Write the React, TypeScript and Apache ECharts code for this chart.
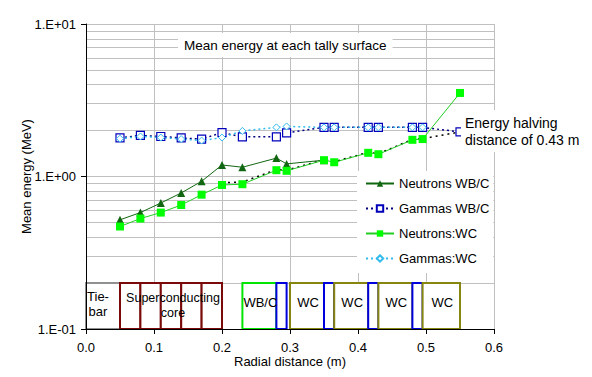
import React, { useEffect, useRef } from "react";
import * as echarts from "echarts";

const FONT = '"Liberation Sans", Arial, sans-serif';

// ---- data ----
const neutronsWBCx = [0.05, 0.08, 0.11, 0.14, 0.17, 0.2, 0.23, 0.28, 0.295, 0.35];
const neutronsWBC = [0.52, 0.58, 0.67, 0.78, 0.93, 1.19, 1.15, 1.32, 1.21, 1.28];

const gammasWBCx = [0.05, 0.08, 0.11, 0.14, 0.17, 0.2, 0.23, 0.28, 0.295, 0.35, 0.365, 0.415, 0.43, 0.48, 0.495, 0.55];
const gammasWBC = [1.79, 1.86, 1.83, 1.79, 1.76, 1.94, 1.82, 1.82, 1.93, 2.1, 2.1, 2.1, 2.1, 2.1, 2.1, 1.96];

const neutronsWCx = [0.05, 0.08, 0.11, 0.14, 0.17, 0.2, 0.23, 0.28, 0.295, 0.35, 0.365, 0.415, 0.43, 0.48, 0.495, 0.55];
const neutronsWC = [0.47, 0.53, 0.58, 0.65, 0.76, 0.88, 0.89, 1.1, 1.09, 1.28, 1.24, 1.43, 1.4, 1.74, 1.76, 3.53];

const gammasWCx = [0.05, 0.08, 0.11, 0.14, 0.17, 0.2, 0.23, 0.28, 0.295, 0.35, 0.365, 0.415, 0.43, 0.48, 0.495];
const gammasWC = [1.77, 1.83, 1.8, 1.76, 1.72, 1.8, 1.99, 2.1, 2.13, 2.1, 2.1, 2.1, 2.1, 2.1, 2.1];

const halvingX = [0.2, 0.23, 0.28, 0.295, 0.35, 0.365, 0.415, 0.43, 0.48, 0.495, 0.55];
const halvingY = [0.91, 0.92, 1.11, 1.1, 1.29, 1.25, 1.44, 1.41, 1.75, 1.77, 1.96];

const seriesNames = ["Neutrons WB/C", "Gammas WB/C", "Neutrons:WC", "Gammas:WC"];

// layer boxes (radial extent) drawn between two energy values
const boxStart = [0, 0.05, 0.08, 0.11, 0.14, 0.17, 0.23, 0.28, 0.3, 0.35, 0.365, 0.415, 0.43, 0.48, 0.495];
const boxEnd = [0.05, 0.08, 0.11, 0.14, 0.17, 0.2, 0.28, 0.295, 0.35, 0.365, 0.415, 0.43, 0.48, 0.495, 0.55];
const boxKind = ["tie", "core", "core", "core", "core", "core", "wbc", "gap", "wc", "gap", "wc", "gap", "wc", "gap", "wc"];
const boxLabel = ["Tie-\nbar", "", "", "", "", "", "WB/C", "", "WC", "", "WC", "", "WC", "", "WC"];
const boxLow = 0.1;
const boxHigh = 0.2;
const coreLabel = "Superconducting\ncore";
const coreStart = 0.05;
const coreEnd = 0.2;

const xGrid = [0.1, 0.2, 0.3, 0.4, 0.5, 0.6];
const yGrid = [0.2, 0.3, 0.4, 0.5, 0.6, 0.7, 0.8, 0.9, 1, 2, 3, 4, 5, 6, 7, 8, 9, 10];

const kindColor: Record<string, string> = {
  tie: "#909090",
  core: "#7a0a0a",
  wbc: "#00e600",
  gap: "#0000dd",
  wc: "#858510",
};

const pairs = (xs: number[], ys: number[]) => xs.map((x, i) => [x, ys[i]]);

const fmtY = (v: number) => {
  const e = Math.round(Math.log10(v));
  return "1.E" + (e < 0 ? "-" : "+") + String(Math.abs(e)).padStart(2, "0");
};

export default function App() {
  const ref = useRef<HTMLDivElement>(null);
  useEffect(() => {
    if (!ref.current) return;
    const chart = echarts.init(ref.current, undefined, { renderer: "svg" });

    const gridLines = {
      silent: true,
      z: 0,
      symbol: ["none", "none"],
      label: { show: false },
      emphasis: { disabled: true },
      lineStyle: { color: "#c0c0c0", width: 1, type: "solid" },
      data: [...xGrid.map((v) => ({ xAxis: v })), ...yGrid.map((v) => ({ yAxis: v }))],
    };

    const boxes = boxStart.map((s, i) => [
      {
        xAxis: s,
        yAxis: boxLow,
        itemStyle: { color: "#ffffff", borderColor: kindColor[boxKind[i]], borderWidth: 2 },
        label: {
          show: !!boxLabel[i],
          formatter: boxLabel[i],
          position: "inside",
          offset: boxKind[i] === "tie" ? [-5, -2] : [1, -4],
          color: "#000",
          fontSize: 13,
          lineHeight: 15,
          fontFamily: FONT,
        },
      },
      { xAxis: boxEnd[i], yAxis: boxHigh },
    ]);
    boxes.push([
      {
        xAxis: coreStart,
        yAxis: boxLow,
        itemStyle: { color: "rgba(0,0,0,0)", borderColor: "rgba(0,0,0,0)", borderWidth: 0 },
        label: {
          show: true,
          formatter: coreLabel,
          position: "inside",
          offset: [2, -1],
          color: "#000",
          fontSize: 12.5,
          lineHeight: 15,
          fontFamily: FONT,
        },
      } as any,
      { xAxis: coreEnd, yAxis: boxHigh },
    ]);

    chart.setOption({
      animation: false,
      textStyle: { fontFamily: FONT },
      grid: { left: 86, right: 98, top: 24, bottom: 48 },
      xAxis: {
        type: "value",
        min: 0,
        max: 0.6,
        interval: 0.1,
        z: 5,
        name: "Radial distance (m)",
        nameLocation: "middle",
        nameGap: 26,
        nameMoveOverlap: false,
        nameTextStyle: { fontSize: 13, color: "#000", fontFamily: FONT },
        axisLine: { onZero: false, lineStyle: { color: "#000", width: 1 } },
        axisTick: { show: true, length: 5, lineStyle: { color: "#000" } },
        axisLabel: { fontSize: 13, color: "#000", margin: 12, formatter: (v: number) => v.toFixed(1) },
        splitLine: { show: false },
      },
      yAxis: {
        type: "log",
        logBase: 10,
        min: 0.1,
        max: 10,
        z: 5,
        name: "Mean energy (MeV)",
        nameLocation: "middle",
        nameRotate: 90,
        nameGap: 53,
        nameMoveOverlap: false,
        nameTextStyle: { fontSize: 13, color: "#000", fontFamily: FONT },
        axisLine: { show: true, onZero: false, lineStyle: { color: "#000", width: 1 } },
        axisTick: { show: true, length: 5, lineStyle: { color: "#000" } },
        axisLabel: { fontSize: 13, color: "#000", margin: 10, formatter: fmtY },
        splitLine: { show: false },
      },
      legend: {
        data: seriesNames,
        orient: "vertical",
        left: 357,
        top: 171,
        itemWidth: 28,
        itemHeight: 8,
        itemGap: 12,
        padding: [6, 4, 8, 8],
        backgroundColor: "#ffffff",
        textStyle: { fontSize: 13, color: "#000", fontFamily: FONT },
        z: 10,
      },
      graphic: [
        {
          type: "text",
          left: 178,
          top: 33,
          z: 20,
          style: {
            text: "Mean energy at each tally surface",
            fontSize: 13.5,
            fontFamily: FONT,
            fill: "#000",
            backgroundColor: "#ffffff",
            padding: [5, 6],
          },
        },
        {
          type: "text",
          left: 461,
          top: 110,
          z: 20,
          style: {
            text: "Energy halving\ndistance of 0.43 m",
            fontSize: 14,
            fontFamily: FONT,
            fill: "#000",
            align: "center",
            lineHeight: 17,
            backgroundColor: "#ffffff",
            padding: [4, 4],
          },
        },
      ],
      series: [
        {
          name: seriesNames[0],
          type: "line",
          z: 4,
          data: pairs(neutronsWBCx, neutronsWBC),
          symbol: "triangle",
          symbolSize: 8,
          itemStyle: { color: "#116611" },
          lineStyle: { color: "#116611", width: 1 },
          markLine: gridLines,
          markArea: { silent: true, z: 1, data: boxes },
        },
        {
          name: seriesNames[1],
          type: "line",
          z: 4,
          data: pairs(gammasWBCx, gammasWBC),
          symbol: "rect",
          symbolSize: 8,
          itemStyle: { color: "#ffffff", borderColor: "#0000bb", borderWidth: 1.2 },
          lineStyle: { color: "#000080", width: 1.5, type: [2, 3] },
        },
        {
          name: seriesNames[2],
          type: "line",
          z: 4,
          data: pairs(neutronsWCx, neutronsWC),
          symbol: "rect",
          symbolSize: 8,
          itemStyle: { color: "#00ff00" },
          lineStyle: { color: "#22cc22", width: 1 },
        },
        {
          name: seriesNames[3],
          type: "line",
          z: 4,
          data: pairs(gammasWCx, gammasWC),
          symbol: "diamond",
          symbolSize: 7,
          itemStyle: { color: "#ffffff", borderColor: "#33bbee", borderWidth: 1 },
          lineStyle: { color: "#33bbee", width: 1.5, type: [2, 3] },
        },
        {
          name: "halving",
          type: "line",
          z: 3,
          data: pairs(halvingX, halvingY),
          showSymbol: false,
          symbol: "none",
          silent: true,
          lineStyle: { color: "#000000", width: 1.5, type: [2, 4] },
        },
      ],
    });
    return () => chart.dispose();
  }, []);
  return (
    <div
      ref={ref}
      style={{ position: "fixed", left: 0, top: 0, width: 592, height: 377, background: "#fff" }}
    />
  );
}
